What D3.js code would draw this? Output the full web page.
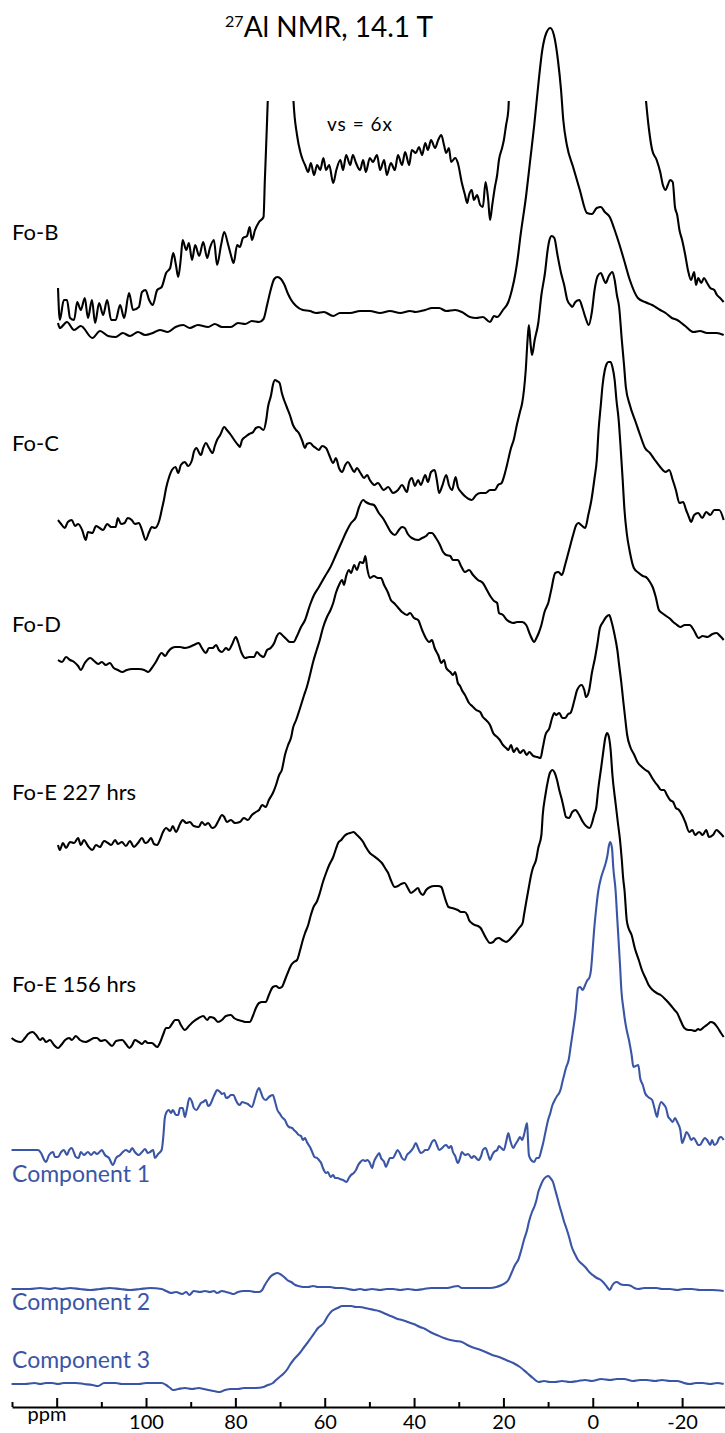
<!DOCTYPE html>
<html>
<head>
<meta charset="utf-8">
<script src="https://d3js.org/d3.v7.min.js"></script>
<style>
  body { margin: 0; background: #fff; }
  svg { display: block; }
  text { font-family: Lato, 'Open Sans', sans-serif; }
</style>
</head>
<body>
<script>
// 27Al NMR spectra, stacked. each series is [ppm, intensity (a.u.)]

const title = '27Al NMR, 14.1 T'
const sampleNames = ['Fo-B', 'Fo-C', 'Fo-D', 'Fo-E 227 hrs', 'Fo-E 156 hrs']
const componentNames = ['Component 1', 'Component 2', 'Component 3']
const majorTicks = [120, 100, 80, 60, 40, 20, 0, -20]
const minorTicks = [130, 110, 90, 70, 50, 30, 10, -10]

const foB = [
  [119.7,7],[119.3,2],[117.7,8],[116.1,0],[114.6,4],[112.0,-8],[110.3,-1],[108.5,-6],[106.8,-7],[105.2,-3],
  [103.6,-6],[101.8,-2],[100.2,-5],[98.5,-3],[96.9,0],[95.1,-2],[93.4,3],[91.7,5],[90.2,2],[88.4,5],
  [86.1,3],[84.6,6],[83.0,3],[81.0,3],[79.4,7],[77.8,6],[76.3,9],[74.7,8],[73.7,11],[72.9,25],
  [72.1,40],[71.3,51],[70.6,53],[69.8,51],[69.1,46],[68.2,36],[67.5,30],[66.4,24],[64.9,20],[63.3,19],
  [61.9,17],[60.2,18],[58.1,14],[56.6,17],[54.3,17],[52.1,19],[49.9,19],[47.6,17],[45.4,19],[43.1,17],
  [40.9,19],[39.6,18],[37.5,20],[36.0,22],[34.4,22],[32.8,19],[30.8,20],[29.3,18],[27.5,13],[26.1,12],
  [24.6,13],[23.0,8],[22.1,14],[21.4,13],[20.1,20],[18.9,28],[18.1,40],[17.3,57],[16.7,75],[16.3,90],
  [14.9,135],[14.0,170],[13.1,205],[12.2,245],[11.3,280],[10.4,297],[9.5,302],[8.7,295],[7.8,270],[7.1,240],
  [6.6,210],[5.8,185],[4.4,163],[2.9,140],[1.3,117],[0.2,116],[-0.9,122],[-1.8,123],[-2.7,118],[-3.8,113],
  [-4.9,100],[-6.0,85],[-7.0,70],[-8.3,50],[-10.1,32],[-11.7,28],[-13.3,25],[-15.1,20],[-16.3,17],[-17.7,12],
  [-18.9,10],[-20.7,4],[-22.6,-2],[-24.0,-1],[-25.6,-3],[-27.7,-3],[-29.3,-5]
]

// same sample, vertical scale x6 (runs off the top)
const foBvs = [
  [119.7,42],[119.3,10],[118.4,30],[117.7,30],[117.0,12],[116.1,10],[115.4,28],[114.6,20],[113.7,32],[113.0,12],
  [112.1,30],[111.4,7],[110.5,27],[109.6,15],[108.7,30],[107.8,10],[106.8,10],[105.8,25],[104.9,12],[103.8,37],
  [102.9,20],[101.6,23],[100.9,38],[100.1,40],[99.3,30],[98.5,25],[97.5,40],[96.5,43],[95.5,57],[94.6,62],
  [93.9,77],[93.3,65],[92.8,53],[92.2,72],[91.8,90],[91.0,80],[90.4,87],[89.7,70],[89.0,85],[88.1,74],
  [87.2,88],[86.3,72],[85.7,82],[84.8,90],[84.1,65],[83.2,85],[82.5,98],[81.6,85],[81.0,75],[80.4,67],
  [79.6,85],[79.0,83],[78.3,92],[77.4,94],[76.8,103],[76.3,90],[75.6,100],[74.7,108],[73.7,113],[73.4,150],
  [72.9,210],[72.5,270],[71.8,530],[68.9,530],[67.5,290],[67.0,230],[66.2,195],[65.4,177],[64.9,170],[64.4,165],
  [63.7,158],[63.1,167],[62.4,155],[61.7,165],[61.0,160],[60.3,172],[59.7,160],[59.0,165],[58.1,147],[57.4,160],
  [56.5,170],[55.9,160],[55.2,175],[54.3,165],[53.7,175],[53.0,167],[52.1,160],[51.4,170],[50.8,158],[49.9,172],
  [49.2,168],[48.3,175],[47.6,160],[46.7,170],[46.1,155],[45.2,167],[44.3,160],[43.6,175],[42.7,165],[42.0,178],
  [41.1,165],[40.5,180],[39.6,177],[38.9,183],[38.2,175],[37.5,187],[36.9,180],[36.2,190],[35.3,182],[34.6,190],
  [33.9,195],[33.3,185],[32.8,177],[32.2,182],[31.7,168],[30.8,172],[30.2,167],[29.3,147],[28.6,135],[28.1,127],
  [27.7,135],[27.1,140],[26.6,130],[25.9,135],[25.2,125],[24.6,123],[24.0,148],[23.4,130],[23.0,110],[22.5,125],
  [21.9,143],[21.4,155],[21.0,170],[20.3,182],[19.9,190],[19.4,205],[18.9,220],[18.5,270],[17.4,530],[-10.5,530],
  [-11.7,240],[-11.9,230],[-12.6,200],[-13.3,180],[-14.3,170],[-15.1,158],[-15.7,145],[-16.3,140],[-16.8,145],[-17.3,150],
  [-17.9,148],[-18.4,123],[-18.9,115],[-19.4,100],[-20.0,90],[-20.7,75],[-21.3,60],[-22.0,50],[-22.7,58],[-23.1,45],
  [-23.6,52],[-24.3,47],[-24.9,52],[-25.6,47],[-26.3,42],[-27.2,40],[-27.8,35],[-28.5,32],[-29.3,28]
]

const foC = [
  [119.7,0],[119.0,-4],[118.2,-8],[117.5,-2],[116.6,0],[115.9,-6],[115.2,-4],[114.3,-10],[113.5,-20],[113.0,-12],
  [112.0,-13],[111.2,-6],[110.4,-8],[109.6,-10],[108.7,-4],[107.8,-7],[106.8,-7],[106.3,2],[105.6,-4],[104.8,-3],
  [104.1,2],[103.2,0],[102.5,-4],[101.6,-3],[100.9,-10],[100.1,-20],[99.3,-12],[98.7,-7],[98.0,-8],[97.0,0],
  [96.4,12],[96.0,20],[95.5,32],[94.9,42],[94.2,50],[93.4,53],[92.8,47],[92.2,55],[91.3,58],[90.6,54],
  [89.7,60],[89.3,68],[88.7,72],[88.1,67],[87.7,65],[87.2,72],[86.6,77],[85.9,72],[85.1,67],[84.6,74],
  [84.1,80],[83.4,85],[82.5,93],[81.9,90],[81.0,85],[80.1,79],[79.4,75],[79.0,73],[78.5,80],[77.8,83],
  [76.9,86],[76.0,88],[75.4,92],[74.7,93],[73.7,90],[73.1,100],[72.7,113],[72.0,125],[71.6,135],[71.1,140],
  [70.7,139],[70.1,137],[69.6,127],[69.1,120],[68.5,113],[67.8,105],[67.1,95],[66.4,90],[65.8,87],[65.1,80],
  [64.4,72],[64.0,76],[63.3,77],[62.6,74],[62.0,72],[61.3,70],[60.6,74],[59.7,72],[59.0,65],[58.1,57],
  [57.5,62],[56.8,52],[56.1,48],[55.4,55],[54.8,58],[54.1,53],[53.4,48],[52.8,52],[52.0,47],[51.2,42],
  [50.5,45],[49.9,40],[48.9,35],[48.1,37],[46.8,30],[45.8,33],[44.7,27],[43.6,30],[42.7,35],[41.6,28],
  [41.1,38],[40.5,42],[39.8,34],[39.1,40],[38.5,35],[37.5,45],[36.9,38],[36.2,48],[35.4,50],[34.9,40],
  [34.4,27],[33.7,34],[32.8,45],[32.2,35],[31.5,30],[30.7,43],[30.2,33],[29.3,27],[28.4,23],[27.1,20],
  [26.1,25],[25.2,27],[24.0,27],[23.0,30],[21.9,30],[21.2,35],[20.4,37],[19.9,43],[19.2,55],[18.3,72],
  [17.7,80],[17.0,95],[16.3,108],[15.8,117],[15.4,130],[15.0,150],[14.6,180],[14.3,195],[13.9,175],[13.6,165],
  [13.0,180],[12.2,197],[11.5,225],[10.7,247],[10.1,270],[9.7,280],[9.2,284],[8.6,282],[7.9,265],[7.1,247],
  [6.4,235],[5.7,220],[5.0,215],[4.6,213],[3.9,218],[3.0,220],[2.3,212],[1.6,202],[0.9,195],[0.2,208],
  [-0.4,230],[-1.1,244],[-1.8,247],[-2.5,240],[-2.9,237],[-3.6,244],[-4.4,248],[-4.9,240],[-5.4,225],[-5.9,213],
  [-6.5,180],[-7.0,155],[-7.4,133],[-8.3,115],[-9.6,98],[-10.6,85],[-11.7,72],[-12.8,67],[-13.9,60],[-15.1,53],
  [-16.3,48],[-17.1,50],[-17.9,40],[-18.6,30],[-19.4,17],[-20.2,18],[-20.9,10],[-21.6,2],[-22.0,-2],[-22.7,5],
  [-23.6,7],[-24.5,2],[-25.4,8],[-26.3,5],[-27.2,10],[-28.3,10],[-29.3,0]
]

const foD = [
  [119.7,5],[118.8,3],[117.9,8],[117.0,5],[116.1,3],[115.2,-1],[114.6,-5],[113.7,2],[112.5,7],[111.6,4],
  [110.7,1],[109.9,3],[109.0,0],[108.1,2],[107.2,-3],[106.3,-5],[105.3,-7],[104.3,-5],[103.1,-4],[101.6,-4],
  [100.4,-5],[99.5,-7],[98.7,-3],[97.8,3],[96.5,12],[95.7,9],[95.1,13],[94.2,17],[93.4,18],[92.4,18],
  [91.3,17],[90.3,18],[89.3,20],[88.2,22],[87.5,17],[86.6,12],[85.9,17],[85.1,17],[84.3,20],[83.7,15],
  [83.0,13],[82.1,17],[81.5,15],[80.8,20],[79.9,28],[79.4,23],[78.7,13],[77.8,7],[76.9,8],[75.8,8],
  [75.2,13],[74.5,10],[73.7,8],[72.9,15],[72.1,17],[71.3,22],[70.7,29],[70.1,32],[69.3,29],[68.4,25],
  [67.8,23],[67.0,23],[66.2,29],[65.3,38],[64.4,45],[63.3,60],[62.4,70],[61.3,78],[59.9,89],[58.7,98],
  [57.5,110],[56.2,123],[55.2,133],[54.1,142],[53.0,148],[52.3,158],[51.4,165],[50.8,163],[49.9,161],[49.0,160],
  [47.9,152],[47.0,147],[46.1,140],[45.2,133],[44.3,130],[43.4,135],[42.7,138],[42.1,137],[41.4,131],[40.5,127],
  [39.1,125],[38.2,127],[37.3,129],[36.6,132],[36.0,132],[35.1,127],[34.2,120],[33.5,113],[32.8,110],[31.9,109],
  [31.3,105],[30.2,105],[29.5,99],[28.6,93],[27.7,95],[26.8,90],[25.7,85],[24.6,82],[23.7,75],[22.8,68],
  [22.1,64],[21.4,62],[21.0,52],[20.1,50],[19.2,45],[18.5,43],[17.8,42],[16.9,43],[15.8,43],[14.9,40],
  [14.0,30],[13.1,23],[12.6,27],[12.1,32],[11.5,40],[10.8,53],[9.9,63],[9.3,75],[8.4,92],[7.7,93],
  [6.9,90],[6.2,100],[5.3,115],[4.4,130],[3.7,140],[3.2,142],[2.6,140],[1.7,137],[1.0,150],[0.3,165],
  [-0.4,187],[-0.9,205],[-1.3,235],[-1.8,260],[-2.2,280],[-2.7,295],[-3.1,301],[-3.5,303],[-4.0,303],[-4.4,298],
  [-4.9,285],[-5.3,265],[-5.8,245],[-6.2,220],[-6.7,185],[-7.1,155],[-7.6,132],[-8.3,113],[-9.2,97],[-10.3,92],
  [-11.2,89],[-11.9,88],[-12.8,83],[-13.4,78],[-14.1,68],[-14.8,55],[-15.5,52],[-16.4,49],[-17.1,47],[-18.0,43],
  [-18.6,41],[-19.6,38],[-20.6,40],[-21.7,40],[-22.6,35],[-23.7,27],[-24.6,29],[-25.7,28],[-26.8,31],[-27.7,32],
  [-28.5,29],[-29.3,25]
]

const foE227 = [
  [119.7,3],[119.3,-2],[118.6,5],[117.9,0],[117.0,6],[116.1,5],[115.2,10],[114.6,3],[113.9,8],[113.0,2],
  [112.0,-2],[111.2,3],[110.3,1],[109.4,7],[108.5,5],[107.8,3],[106.9,8],[106.3,4],[105.4,6],[104.5,2],
  [103.6,7],[102.7,1],[101.8,5],[100.9,10],[100.2,5],[99.6,6],[98.9,10],[98.2,4],[97.5,3],[96.9,8],
  [96.2,16],[95.5,20],[94.6,17],[94.0,22],[93.3,16],[92.4,24],[91.8,28],[91.0,25],[90.2,26],[89.3,22],
  [88.2,21],[87.5,26],[86.8,23],[86.1,25],[85.2,20],[84.6,21],[83.7,28],[83.0,33],[82.5,31],[81.9,26],
  [81.0,28],[80.1,25],[79.0,26],[78.1,30],[77.2,28],[76.3,33],[75.4,36],[74.7,38],[74.0,43],[73.2,41],
  [72.5,48],[71.6,55],[70.9,63],[70.2,73],[69.6,78],[68.9,93],[68.2,103],[67.5,111],[67.1,120],[66.4,128],
  [65.3,143],[64.6,153],[64.0,161],[63.3,173],[62.6,186],[61.8,198],[61.1,208],[60.4,220],[59.5,231],[58.7,238],
  [58.1,245],[57.5,255],[56.8,263],[56.1,268],[55.7,263],[55.2,272],[54.6,278],[54.1,275],[53.4,283],[52.8,278],
  [52.1,286],[51.4,285],[50.9,292],[50.5,280],[49.9,270],[49.0,272],[48.1,270],[47.4,270],[46.7,263],[45.8,255],
  [45.2,248],[44.5,245],[43.7,241],[42.7,236],[41.6,233],[40.9,235],[40.0,230],[39.1,228],[38.2,218],[37.5,211],
  [36.6,206],[36.0,208],[35.4,200],[34.6,193],[33.9,185],[33.3,188],[32.8,180],[31.9,176],[31.3,173],[30.8,176],
  [30.2,165],[29.7,162],[29.3,158],[28.6,153],[27.7,145],[27.0,142],[26.1,138],[25.2,136],[24.6,131],[23.9,128],
  [23.0,123],[22.3,115],[21.4,111],[20.8,108],[20.1,103],[19.4,100],[18.9,98],[18.3,103],[17.7,96],[17.0,100],
  [16.3,95],[15.5,98],[14.8,93],[14.2,96],[13.3,92],[12.4,91],[11.7,90],[11.2,100],[10.6,113],[9.7,120],
  [9.1,130],[8.6,135],[8.2,133],[7.5,135],[6.8,130],[6.2,130],[5.5,134],[5.0,135],[4.1,148],[3.5,158],
  [2.5,163],[1.9,158],[1.5,151],[0.8,158],[0.2,175],[-0.5,190],[-1.0,203],[-1.6,220],[-2.3,226],[-3.0,231],
  [-3.7,233],[-4.1,228],[-4.8,215],[-5.5,198],[-5.9,183],[-6.4,165],[-6.8,148],[-7.3,128],[-7.7,113],[-8.4,101],
  [-9.3,93],[-10.0,86],[-11.0,81],[-11.8,78],[-12.5,76],[-13.3,70],[-13.9,66],[-14.6,62],[-15.3,58],[-16.0,58],
  [-16.6,53],[-17.3,48],[-18.0,46],[-18.6,40],[-19.3,38],[-20.0,33],[-20.7,26],[-21.6,16],[-22.3,18],[-22.9,13],
  [-23.8,16],[-24.6,13],[-25.4,18],[-26.0,11],[-26.9,13],[-27.7,18],[-28.5,15],[-29.3,11]
]

const foE156 = [
  [130.1,4],[129.1,1],[128.0,0],[127.1,4],[126.4,8],[125.4,10],[124.6,7],[123.7,2],[123.1,4],[122.4,0],
  [121.5,2],[120.6,-3],[119.7,-6],[119.0,-3],[118.1,2],[117.2,4],[116.6,2],[115.7,6],[114.8,2],[113.5,0],
  [112.5,2],[111.6,4],[111.0,4],[110.1,1],[109.2,2],[108.4,-1],[107.6,-4],[106.7,1],[105.3,2],[104.5,-2],
  [103.7,-6],[103.1,-3],[102.5,2],[101.6,0],[100.9,-2],[100.2,1],[99.6,-1],[98.7,-1],[97.5,-5],[96.9,-1],
  [96.2,7],[95.5,14],[94.9,14],[94.2,18],[93.5,22],[92.8,22],[92.2,17],[91.3,12],[90.4,16],[89.5,20],
  [88.2,24],[87.2,26],[86.3,22],[85.7,25],[84.8,24],[83.9,20],[83.0,22],[82.1,26],[81.0,27],[80.3,24],
  [79.4,22],[78.5,21],[77.6,20],[76.8,20],[76.0,27],[75.4,34],[74.7,39],[74.0,40],[73.2,40],[72.5,47],
  [71.6,55],[70.9,56],[70.2,54],[69.6,55],[68.9,62],[68.2,70],[67.5,77],[66.9,80],[66.2,82],[65.5,92],
  [64.9,102],[64.4,109],[63.7,117],[63.1,127],[62.4,136],[61.8,140],[61.1,149],[60.4,160],[59.7,169],[59.0,177],
  [58.1,185],[57.5,193],[57.0,199],[56.3,202],[55.6,206],[55.0,208],[54.3,209],[53.5,210],[53.0,208],[52.1,204],
  [51.4,200],[50.8,195],[49.9,189],[49.0,186],[47.9,182],[47.2,179],[46.5,174],[45.8,169],[45.2,162],[44.3,155],
  [43.6,156],[42.9,158],[42.1,159],[41.4,154],[40.7,149],[40.0,151],[39.1,154],[38.7,150],[38.0,147],[37.3,152],
  [36.4,155],[35.5,156],[34.6,156],[33.9,155],[33.3,147],[32.8,140],[32.3,135],[31.5,134],[30.8,133],[30.2,132],
  [29.5,130],[28.7,130],[28.1,127],[27.7,122],[27.1,119],[26.4,117],[25.7,116],[25.1,114],[24.6,110],[23.9,104],
  [23.0,99],[22.3,100],[21.7,103],[21.0,104],[20.3,102],[19.4,100],[18.7,102],[18.1,105],[17.3,109],[16.5,114],
  [15.7,119],[15.4,127],[14.9,140],[14.3,155],[13.8,167],[13.4,174],[12.7,182],[12.2,194],[11.5,207],[11.2,227],
  [10.6,247],[10.0,262],[9.6,269],[9.0,272],[8.5,269],[8.0,262],[7.5,252],[6.9,242],[6.4,232],[6.0,225],
  [5.3,224],[4.6,230],[3.8,232],[3.3,229],[2.8,225],[2.2,220],[1.5,216],[0.7,214],[0.1,220],[-0.3,227],
  [-0.8,235],[-1.2,252],[-1.9,275],[-2.4,292],[-2.8,304],[-3.2,309],[-3.5,307],[-4.0,292],[-4.4,267],[-5.1,239],
  [-5.6,220],[-6.1,202],[-6.5,182],[-6.8,164],[-7.1,152],[-7.6,122],[-8.0,114],[-8.7,107],[-9.4,94],[-10.3,82],
  [-11.0,72],[-11.8,64],[-12.5,57],[-13.4,52],[-14.3,49],[-15.2,47],[-16.4,42],[-17.4,37],[-18.3,32],[-18.9,29],
  [-19.6,22],[-20.5,14],[-21.4,12],[-22.0,12],[-22.9,11],[-23.6,13],[-24.0,12],[-24.9,15],[-25.8,18],[-26.4,20],
  [-27.1,19],[-28.0,14],[-28.7,9],[-29.3,5]
]

const comp1 = [
  [130.1,2],[125.0,2],[124.2,2],[123.5,-1],[122.8,-8],[122.4,-10],[121.7,-3],[120.8,0],[120.4,-5],[119.7,-5],
  [119.0,0],[118.4,2],[117.7,-3],[117.2,2],[116.6,4],[116.1,-1],[115.7,-5],[115.1,-6],[114.6,0],[113.9,-3],
  [113.0,0],[112.3,-3],[111.6,0],[111.0,-2],[110.4,0],[109.9,2],[109.2,-3],[108.3,-6],[107.4,-13],[106.7,-6],
  [105.8,-3],[105.2,0],[104.5,2],[103.7,0],[103.1,4],[102.5,0],[101.6,-3],[100.9,0],[100.2,3],[99.6,-1],
  [99.1,0],[98.4,2],[98.0,-6],[97.3,-2],[96.5,2],[96.1,17],[95.8,34],[95.5,39],[94.9,42],[94.4,39],
  [94.0,42],[93.3,37],[92.8,37],[92.4,44],[91.8,44],[91.3,35],[90.8,44],[90.3,54],[89.7,50],[89.3,44],
  [88.7,42],[88.1,46],[87.7,49],[87.2,50],[86.6,52],[86.1,46],[85.7,47],[85.0,54],[84.6,58],[84.1,62],
  [83.4,60],[83.0,58],[82.5,59],[82.1,54],[81.5,55],[81.0,57],[80.4,57],[79.9,52],[79.4,48],[79.0,47],
  [78.5,50],[77.8,49],[77.2,48],[76.7,46],[76.3,45],[75.6,54],[75.2,60],[74.7,64],[74.3,60],[73.8,54],
  [73.2,52],[72.7,54],[72.2,56],[71.6,57],[71.1,50],[70.6,42],[70.0,38],[69.6,35],[68.9,32],[68.4,27],
  [68.0,25],[67.3,24],[66.9,22],[66.4,20],[65.8,17],[65.3,16],[64.9,12],[64.4,14],[64.0,10],[63.3,5],
  [62.8,0],[62.3,-5],[61.7,-6],[61.3,-8],[60.8,-11],[60.4,-16],[59.7,-21],[59.3,-20],[58.7,-25],[58.1,-23],
  [57.7,-26],[57.1,-26],[56.6,-27],[55.9,-28],[55.1,-30],[54.6,-26],[54.1,-23],[53.5,-21],[53.0,-18],[52.5,-13],
  [52.0,-10],[51.4,-8],[51.0,-9],[50.4,-8],[49.9,-11],[49.4,-16],[49.0,-10],[48.3,-4],[47.8,-1],[47.4,-6],
  [46.7,-10],[46.3,-15],[45.8,-10],[45.4,-6],[44.7,-6],[44.3,-3],[43.7,2],[43.1,-2],[42.7,-6],[42.1,-8],
  [41.6,-3],[40.9,0],[40.2,4],[39.6,9],[39.1,4],[38.5,-1],[38.0,0],[37.5,2],[36.9,2],[36.4,6],
  [36.0,10],[35.4,12],[34.9,7],[34.4,2],[33.7,4],[33.3,6],[32.8,7],[32.2,4],[31.7,6],[31.3,0],
  [30.8,-4],[30.2,-11],[29.7,-6],[29.3,0],[28.6,-3],[27.9,-2],[27.1,-6],[26.6,-4],[25.6,-8],[25.0,-4],
  [24.6,2],[24.0,4],[23.4,-3],[23.0,-8],[22.5,-3],[22.1,0],[21.4,2],[21.0,6],[20.5,4],[19.9,2],
  [19.4,10],[18.9,19],[18.5,12],[17.8,4],[17.4,7],[16.7,12],[16.3,15],[15.8,12],[15.4,17],[14.7,29],
  [14.5,12],[14.3,-3],[13.8,-8],[13.1,-10],[12.6,-6],[12.1,-6],[11.5,2],[11.1,9],[10.4,24],[10.0,32],
  [9.5,39],[9.1,46],[8.5,52],[8.0,56],[7.5,59],[7.1,64],[6.8,70],[6.4,77],[6.0,84],[5.4,92],
  [4.9,107],[4.4,122],[3.8,142],[3.5,157],[3.3,164],[2.8,165],[2.3,162],[1.7,167],[1.3,171],[0.7,175],
  [0.4,182],[0.2,192],[-0.3,222],[-0.8,245],[-1.2,260],[-1.9,275],[-2.4,282],[-2.9,289],[-3.3,297],[-3.6,306],
  [-3.9,310],[-4.3,304],[-4.6,284],[-5.1,262],[-5.5,232],[-6.1,187],[-6.4,162],[-6.9,142],[-7.1,135],[-7.5,124],
  [-8.1,112],[-8.7,97],[-9.1,85],[-9.6,86],[-10.2,87],[-10.6,74],[-11.2,67],[-11.7,59],[-12.4,55],[-13.3,52],
  [-13.8,44],[-14.4,35],[-14.7,42],[-15.3,50],[-15.8,48],[-16.4,44],[-16.9,35],[-17.3,33],[-17.9,30],[-18.4,34],
  [-18.9,30],[-19.6,22],[-20.0,9],[-20.5,14],[-21.0,20],[-21.6,16],[-22.0,12],[-22.6,14],[-23.2,10],[-23.6,7],
  [-24.0,7],[-24.7,12],[-25.1,14],[-25.6,12],[-26.3,7],[-26.7,12],[-27.2,7],[-27.8,9],[-28.3,14],[-28.7,15],
  [-29.3,12]
]

const comp2 = [
  [130.1,1],[126.0,1],[123.7,2],[121.5,1],[120.4,2],[118.8,1],[117.0,2],[114.8,1],[112.5,0],[110.3,1],
  [108.1,2],[105.8,1],[103.6,0],[101.3,1],[99.1,2],[96.5,1],[95.5,-1],[94.4,-3],[93.3,-2],[91.9,-4],
  [91.0,-2],[90.3,-5],[89.3,-1],[87.9,-2],[86.8,-1],[85.7,-2],[84.8,-1],[84.1,-3],[83.0,-1],[82.1,-2],
  [81.2,-3],[80.4,-4],[79.4,-2],[78.1,-1],[76.8,-1],[75.6,-2],[74.7,-2],[74.0,0],[73.4,5],[72.7,10],
  [72.0,14],[71.3,16],[70.6,17],[70.0,16],[69.1,13],[68.4,10],[67.5,8],[66.6,5],[65.9,4],[64.9,3],
  [63.7,3],[62.6,4],[61.5,3],[60.2,3],[58.8,3],[57.5,2],[56.1,2],[54.8,1],[53.4,0],[52.1,1],
  [51.0,0],[49.4,1],[47.6,0],[46.1,1],[44.7,1],[43.1,0],[41.4,1],[39.6,0],[37.8,1],[36.2,2],
  [34.4,2],[32.8,2],[31.5,3],[30.2,4],[29.3,2],[28.1,2],[26.6,2],[25.2,2],[23.9,2],[23.0,2],
  [21.6,3],[20.4,5],[19.6,7],[18.9,10],[18.1,18],[17.4,25],[16.7,30],[16.0,40],[15.4,50],[14.7,60],
  [14.3,68],[13.6,78],[13.1,83],[12.6,90],[12.2,98],[11.7,104],[11.1,110],[10.5,113],[9.9,114],[9.5,112],
  [8.9,108],[8.4,100],[7.9,92],[7.5,85],[6.9,76],[6.4,68],[6.0,63],[5.3,53],[4.7,43],[4.0,36],
  [3.3,30],[2.4,26],[1.5,22],[0.8,18],[0.0,15],[-0.9,12],[-1.8,10],[-2.5,7],[-3.2,3],[-3.8,0],
  [-4.3,4],[-4.8,7],[-5.4,8],[-6.1,6],[-7.0,5],[-7.7,5],[-8.6,4],[-9.3,2],[-10.2,1],[-11.5,2],
  [-12.8,2],[-14.3,2],[-15.5,1],[-17.3,1],[-18.9,0],[-20.4,1],[-22.2,1],[-24.0,0],[-26.7,0],[-29.3,-1]
]

const comp3 = [
  [130.1,0],[127.1,0],[124.9,1],[123.7,0],[122.4,1],[121.0,1],[119.7,0],[118.4,1],[117.2,1],[115.7,1],
  [113.9,0],[112.0,-1],[110.7,-2],[109.4,1],[108.1,1],[106.8,1],[105.4,0],[103.6,0],[101.6,0],[100.0,1],
  [98.2,1],[96.5,1],[95.5,-1],[94.6,-4],[94.0,-6],[92.8,-5],[91.3,-4],[89.7,-5],[88.2,-4],[87.0,-5],
  [86.1,-6],[84.8,-7],[83.5,-8],[82.3,-6],[81.0,-5],[79.4,-5],[78.1,-4],[76.8,-4],[75.4,-4],[73.7,-3],
  [72.7,-1],[71.6,1],[70.9,4],[70.1,7],[69.3,10],[68.5,14],[67.8,19],[67.0,24],[66.2,28],[65.4,32],
  [64.6,37],[63.9,41],[63.1,46],[62.3,51],[61.5,56],[60.2,61],[59.3,68],[58.4,73],[57.1,76],[56.1,78],
  [55.1,78],[54.1,78],[53.0,77],[52.1,77],[51.0,76],[49.9,75],[48.9,74],[47.9,73],[46.8,71],[45.8,69],
  [44.7,67],[43.7,65],[42.7,64],[41.4,62],[40.1,60],[38.7,57],[37.5,55],[36.4,52],[34.9,49],[33.3,46],
  [31.9,44],[30.6,43],[29.3,42],[28.1,39],[27.1,37],[25.7,35],[24.0,32],[22.5,29],[21.0,27],[19.4,24],
  [17.8,21],[16.3,17],[14.7,11],[13.4,6],[12.1,2],[10.9,3],[9.6,2],[8.4,2],[6.9,3],[5.1,2],
  [3.3,3],[1.7,4],[0.2,3],[-1.9,5],[-3.9,4],[-5.4,5],[-7.0,5],[-9.0,3],[-10.6,4],[-12.1,4],
  [-13.9,3],[-15.5,4],[-17.3,3],[-18.9,3],[-20.4,1],[-21.8,0],[-23.1,1],[-24.6,1],[-26.3,0],[-27.8,1],
  [-29.3,0]
]

const W = 725, H = 1433
const black = '#000'
const blue = '#3a55a6'

const svg = d3.select('body').append('svg')
  .attr('width', W)
  .attr('height', H)

const x = d3.scaleLinear()
  .domain([130, -29.6])
  .range([12, 725])

// rows of the stack: baseline (px) and data
const rows = [
  {data: foBvs, base: 330, color: black, clip: true},
  {data: foB, base: 330, color: black},
  {data: foC, base: 520, color: black},
  {data: foD, base: 665, color: black},
  {data: foE227, base: 848, color: black},
  {data: foE156, base: 1042, color: black},
  {data: comp1, base: 1152, color: blue},
  {data: comp2, base: 1290, color: blue},
  {data: comp3, base: 1384, color: blue}
]

svg.append('clipPath')
  .attr('id', 'vsclip')
  .append('rect')
  .attr('x', 0).attr('y', 101)
  .attr('width', W).attr('height', H)

rows.forEach(function(r) {
  const y = d3.scaleLinear().domain([0, 100]).range([r.base, r.base - 100])
  const line = d3.line()
    .x(d => x(d[0]))
    .y(d => y(d[1]))
    .curve(d3.curveMonotoneX)
  svg.append('path')
    .datum(r.data)
    .attr('d', line)
    .attr('fill', 'none')
    .attr('stroke', r.color)
    .attr('stroke-width', 2.1)
    .attr('stroke-linejoin', 'round')
    .attr('clip-path', r.clip ? 'url(#vsclip)' : null)
})

// title
const t = svg.append('text')
  .attr('x', 329)
  .attr('y', 37)
  .attr('text-anchor', 'middle')
  .style('font-size', '28px')
t.append('tspan').text('27').attr('font-size', '16px').attr('dy', '-10')
t.append('tspan').text(title.slice(2)).attr('dy', '10')

svg.append('text')
  .attr('x', 327)
  .attr('y', 131)
  .style('font-size', '19px')
  .style('letter-spacing', '1px')
  .text('vs = 6x')

// sample labels
const sampleY = [240, 451, 632, 800, 992]
sampleNames.forEach(function(n, i) {
  svg.append('text')
    .attr('x', 12)
    .attr('y', sampleY[i])
    .style('font-size', '22px')
    .attr('fill', black)
    .text(n)
})

const compY = [1182, 1310, 1368]
componentNames.forEach(function(n, i) {
  svg.append('text')
    .attr('x', 12)
    .attr('y', compY[i])
    .style('font-size', '23px')
    .attr('fill', blue)
    .text(n)
})

// axis, ticks point up
const axisY = 1407
const major = d3.axisBottom(x)
  .tickValues(majorTicks)
  .tickSizeInner(-9)
  .tickSizeOuter(0)
  .tickPadding(8)
  .tickFormat(d => d === 120 ? '' : String(d))
const gAx = svg.append('g')
  .attr('transform', 'translate(0,' + axisY + ')')
  .call(major)
gAx.select('.domain').attr('stroke-width', 2)
gAx.selectAll('.tick line').attr('stroke-width', 2)
gAx.selectAll('text')
  .style('font-family', "Lato, 'Open Sans', sans-serif")
  .style('font-size', '20px')
  .attr('fill', black)

const minor = d3.axisBottom(x)
  .tickValues(minorTicks)
  .tickSizeInner(-5)
  .tickSizeOuter(0)
  .tickFormat('')
const gMin = svg.append('g')
  .attr('transform', 'translate(0,' + axisY + ')')
  .call(minor)
gMin.select('.domain').remove()
gMin.selectAll('.tick line').attr('stroke-width', 2)

svg.append('text')
  .attr('x', 47)
  .attr('y', 1421)
  .attr('text-anchor', 'middle')
  .style('font-size', '20px')
  .text('ppm')
</script>
</body>
</html>
